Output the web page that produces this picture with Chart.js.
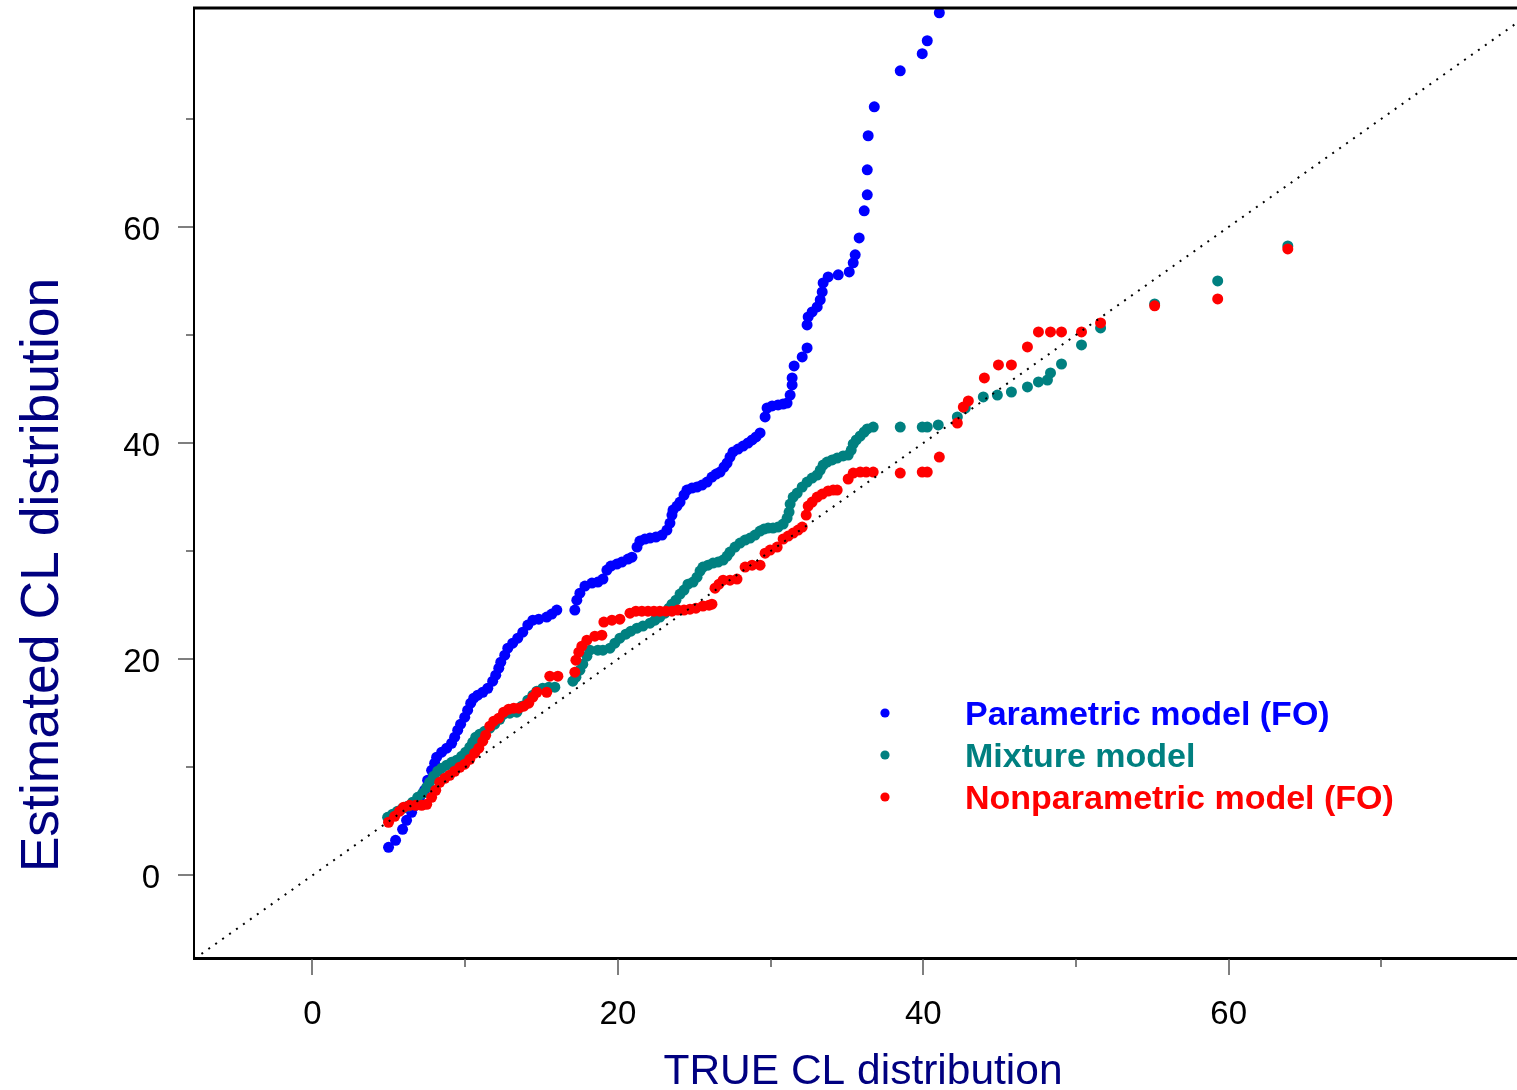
<!DOCTYPE html>
<html><head><meta charset="utf-8">
<script src="https://cdn.jsdelivr.net/npm/chart.js@4.4.1/dist/chart.umd.min.js"></script>
<style>html,body{margin:0;padding:0;background:#fff;overflow:hidden}#wrap{width:1517px;height:1090px}</style>
</head><body><div id="wrap"><canvas id="c" width="1517" height="1090"></canvas></div>
<script>
const seriesNames = ['Parametric model (FO)', 'Mixture model', 'Nonparametric model (FO)'];
const seriesColors = ['#0000FF', '#008080', '#FF0000'];
const xTitle = 'TRUE CL distribution';
const yTitle = 'Estimated CL distribution';
const xTickValues = [0, 10, 20, 30, 40, 50, 60, 70];
const yTickValues = [0, 10, 20, 30, 40, 50, 60, 70];
const refLineX = [-10, 85];
const refLineY = [-10, 85];

const parX = [4.98,5.44,5.90,6.16,6.49,6.75,7.02,7.34,7.54,7.80,
8.00,8.13,8.46,8.79,9.11,9.31,9.51,9.70,9.97,10.16,
10.36,10.56,10.82,11.15,11.48,11.80,12.00,12.20,12.33,12.59,
12.79,13.11,13.44,13.77,14.10,14.43,14.82,15.34,15.67,16.00,
17.18,17.31,17.51,17.84,18.30,18.69,19.02,19.28,19.54,19.93,
20.26,20.66,20.92,21.25,21.44,21.77,22.10,22.49,22.89,23.21,
23.41,23.54,23.61,23.87,24.07,24.33,24.52,24.85,25.18,25.51,
25.84,26.16,26.43,26.69,26.95,27.15,27.34,27.54,27.87,28.20,
28.52,28.79,29.05,29.31,29.64,29.77,30.10,30.49,30.82,31.08,
31.28,31.41,31.41,31.54,32.07,32.39,32.39,32.46,32.72,33.05,
33.25,33.38,33.44,33.77,34.43,35.15,35.41,35.54,35.80,36.13,
36.33,36.33,36.39,36.79,38.49,39.93,40.26,41.05];
const parY = [2.59,3.24,4.26,5.09,5.83,6.48,7.22,7.87,8.80,9.72,
10.37,10.93,11.39,11.76,12.22,12.78,13.43,13.98,14.63,15.28,
15.93,16.39,16.67,16.94,17.31,17.96,18.52,19.17,19.72,20.37,
21.02,21.48,21.94,22.50,23.15,23.61,23.70,23.89,24.17,24.54,
24.54,25.46,26.11,26.76,27.04,27.13,27.41,28.24,28.61,28.80,
28.98,29.26,29.44,30.37,30.93,31.11,31.20,31.30,31.48,31.94,
32.59,33.33,33.80,34.17,34.54,35.19,35.65,35.83,35.93,36.11,
36.39,36.85,37.13,37.31,37.78,38.15,38.70,39.17,39.44,39.72,
40.00,40.28,40.56,40.93,42.41,43.24,43.43,43.52,43.61,43.70,
44.44,45.37,46.02,47.13,47.96,48.80,50.93,51.67,52.13,52.59,
53.24,53.98,54.81,55.37,55.56,55.83,56.67,57.41,58.98,61.48,
62.96,65.28,68.43,71.11,74.44,76.02,77.22,79.81];

const mixX = [4.92,5.25,5.57,5.90,6.23,6.56,6.89,7.21,7.48,7.67,
7.93,8.20,8.46,8.79,9.11,9.44,9.77,10.03,10.30,10.49,
10.69,10.95,11.28,11.61,11.93,12.26,12.52,12.92,13.38,13.70,
14.10,14.43,14.69,15.08,15.48,15.87,17.05,17.25,17.51,17.70,
17.97,18.16,18.69,19.02,19.48,19.80,20.13,20.52,20.85,21.25,
21.64,22.10,22.43,22.75,23.08,23.34,23.54,23.80,24.07,24.33,
24.59,24.92,25.18,25.38,25.57,25.90,26.23,26.56,26.89,27.15,
27.34,27.67,28.00,28.33,28.66,28.98,29.31,29.57,29.84,30.16,
30.49,30.82,31.08,31.21,31.28,31.48,31.74,32.07,32.39,32.72,
33.05,33.25,33.44,33.70,34.03,34.36,34.75,35.08,35.28,35.41,
35.61,35.87,36.13,36.33,36.72,38.49,39.93,40.26,40.98,42.23,
42.75,43.93,44.85,45.77,46.82,47.54,48.13,48.33,49.05,50.36,
51.61,55.15,59.28,63.87];
const mixY = [5.37,5.65,5.93,6.20,6.39,6.76,7.22,7.59,8.15,8.61,
9.17,9.63,9.91,10.19,10.46,10.65,11.02,11.39,11.85,12.31,
12.78,13.06,13.33,13.61,13.98,14.44,14.91,15.00,15.09,15.65,
16.20,16.67,17.04,17.31,17.41,17.41,17.96,18.33,18.98,19.54,
20.28,20.83,20.83,20.83,21.02,21.48,21.94,22.31,22.59,22.87,
23.06,23.33,23.61,23.89,24.26,24.72,25.09,25.46,26.02,26.39,
26.94,27.13,27.59,28.15,28.52,28.70,28.89,28.98,29.17,29.54,
29.91,30.37,30.74,31.02,31.20,31.48,31.85,32.04,32.13,32.13,
32.22,32.50,33.06,33.61,34.35,35.00,35.37,35.93,36.39,36.76,
37.04,37.50,37.96,38.24,38.43,38.61,38.80,38.89,39.35,39.91,
40.28,40.65,41.02,41.30,41.48,41.48,41.48,41.48,41.67,42.41,
43.24,44.26,44.44,44.72,45.19,45.65,45.83,46.48,47.31,49.07,
50.65,52.87,55.00,58.24];

const npX = [4.98,5.38,5.70,5.97,6.36,6.75,7.15,7.48,7.80,8.07,
8.33,8.66,8.98,9.31,9.64,9.97,10.30,10.62,10.89,11.15,
11.34,11.61,11.87,12.20,12.52,12.85,13.18,13.51,13.84,14.16,
14.43,14.69,15.34,15.54,16.07,17.18,17.25,17.44,17.64,17.97,
18.49,18.95,19.08,19.61,20.13,20.79,21.18,21.57,21.97,22.36,
22.75,23.15,23.54,23.93,24.33,24.72,25.11,25.57,25.97,26.16,
26.36,26.62,26.89,27.34,27.80,28.33,28.79,29.31,29.64,29.97,
30.43,30.82,31.15,31.48,31.80,32.07,32.33,32.46,32.72,33.05,
33.38,33.77,34.10,34.36,35.08,35.41,35.87,36.26,36.72,38.49,
39.93,40.26,41.05,42.23,42.62,42.95,44.00,44.92,45.77,46.82,
47.54,48.33,49.05,50.36,51.61,55.15,59.28,63.87];
const npY = [4.91,5.46,5.93,6.30,6.48,6.48,6.48,6.57,7.22,7.87,
8.61,8.98,9.26,9.63,10.00,10.28,10.74,11.30,11.76,12.41,
12.96,13.80,14.26,14.54,15.09,15.37,15.46,15.46,15.65,15.93,
16.48,16.94,16.94,18.43,18.43,18.80,19.91,20.65,21.20,21.76,
22.13,22.22,23.43,23.61,23.70,24.26,24.44,24.44,24.44,24.44,
24.44,24.44,24.44,24.54,24.54,24.63,24.72,24.91,25.00,25.09,
26.57,26.94,27.31,27.31,27.41,28.52,28.70,28.70,29.81,30.09,
30.37,31.11,31.39,31.67,31.94,32.22,33.33,34.17,34.54,35.00,
35.28,35.56,35.65,35.65,36.67,37.22,37.31,37.31,37.31,37.22,
37.31,37.31,38.70,41.85,43.33,43.89,46.02,47.22,47.22,48.89,
50.28,50.28,50.28,50.28,51.11,52.69,53.33,57.96];

const FONT = 'Arial, "Liberation Sans", sans-serif';
const pts = (xs, ys) => xs.map((v, i) => ({x: v, y: ys[i]}));

const deco = {
  id: 'deco',
  afterDraw(chart) {
    const {ctx, chartArea: a, scales: {x, y}} = chart;
    ctx.save();
    // top frame line
    ctx.strokeStyle = '#000';
    ctx.lineWidth = 3;
    ctx.beginPath(); ctx.moveTo(a.left - 1, a.top); ctx.lineTo(a.right, a.top); ctx.stroke();
    // tick marks
    ctx.strokeStyle = '#555';
    ctx.lineWidth = 1.5;
    xTickValues.forEach(v => {
      const px = Math.round(x.getPixelForValue(v));
      const len = v % 20 === 0 ? 17 : 9;
      ctx.beginPath(); ctx.moveTo(px, a.bottom + 1); ctx.lineTo(px, a.bottom + len); ctx.stroke();
    });
    yTickValues.forEach(v => {
      const py = Math.round(y.getPixelForValue(v));
      const len = v % 20 === 0 ? 16 : 8;
      ctx.beginPath(); ctx.moveTo(a.left - 1, py); ctx.lineTo(a.left - len, py); ctx.stroke();
    });
    // axis titles
    ctx.fillStyle = '#000080';
    ctx.font = '53.5px ' + FONT;
    ctx.textAlign = 'center';
    ctx.textBaseline = 'alphabetic';
    ctx.save();
    ctx.translate(58, 575);
    ctx.rotate(-Math.PI / 2);
    ctx.fillText(yTitle, 0, 0);
    ctx.restore();
    ctx.font = '42.5px ' + FONT;
    ctx.fillText(xTitle, 863, 1084);
    // legend
    const rows = [715, 757, 799];
    ctx.textAlign = 'left';
    ctx.textBaseline = 'middle';
    ctx.font = 'bold 34px ' + FONT;
    seriesNames.forEach((name, i) => {
      ctx.fillStyle = seriesColors[i];
      ctx.beginPath(); ctx.arc(885, rows[i] - 2, 4.6, 0, Math.PI * 2); ctx.fill();
      ctx.fillText(name, 965, rows[i] + 1);
    });
    ctx.restore();
  }
};

new Chart(document.getElementById('c'), {
  type: 'scatter',
  data: {
    datasets: [
      {label: seriesNames[0], data: pts(parX, parY), backgroundColor: seriesColors[0], borderWidth: 0, pointRadius: 5.5, order: 3},
      {label: seriesNames[1], data: pts(mixX, mixY), backgroundColor: seriesColors[1], borderWidth: 0, pointRadius: 5.5, order: 2},
      {label: seriesNames[2], data: pts(npX, npY), backgroundColor: seriesColors[2], borderWidth: 0, pointRadius: 5.5, order: 1},
      {type: 'line', label: 'identity', data: pts(refLineX, refLineY), borderColor: '#000', borderWidth: 2,
       borderDash: [2, 6.5], pointRadius: 0, fill: false, order: 0}
    ]
  },
  options: {
    responsive: false,
    animation: false,
    events: [],
    layout: {autoPadding: false, padding: {top: 8, right: 0, left: 0, bottom: 0}},
    plugins: {legend: {display: false}, tooltip: {enabled: false}, title: {display: false}},
    scales: {
      x: {
        type: 'linear', position: 'bottom', min: -7.76, max: 78.88,
        grid: {display: false, drawTicks: false},
        border: {display: true, color: '#000', width: 3},
        ticks: {stepSize: 20, includeBounds: false, color: '#000', font: {size: 33, family: FONT}, padding: 37, maxRotation: 0, autoSkip: false},
        afterFit: s => { s.height = 132; s.paddingLeft = 0; s.paddingRight = 0; }
      },
      y: {
        type: 'linear', position: 'left', min: -7.65, max: 80.25,
        grid: {display: false, drawTicks: false},
        border: {display: true, color: '#000', width: 2},
        ticks: {stepSize: 20, includeBounds: false, color: '#000', font: {size: 33, family: FONT}, padding: 34, labelOffset: 4, autoSkip: false,
          callback: v => (v <= 70 ? v : '')},
        afterFit: s => { s.width = 194; s.paddingTop = 0; s.paddingBottom = 0; }
      }
    }
  },
  plugins: [deco]
});
</script></body></html>
